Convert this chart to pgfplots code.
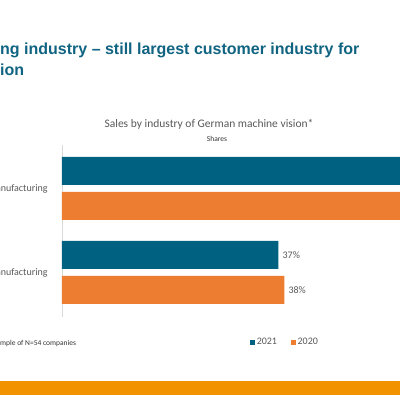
\documentclass[border=0pt]{standalone}
\usepackage{pgfplots}
\pgfplotsset{compat=1.18}
\usepackage{fontspec}
\setmainfont{Carlito}
\newfontfamily\titlefont{Liberation Sans}
\definecolor{barteal}{RGB}{0,98,128}
\definecolor{barorange}{RGB}{237,125,49}
\definecolor{band}{RGB}{243,146,0}
\definecolor{titleteal}{RGB}{16,100,130}
\definecolor{txtgray}{RGB}{89,89,89}
\begin{document}
\begin{tikzpicture}[x=1pt,y=1pt]
\useasboundingbox (0,0) rectangle (400,395);
\clip (0,0) rectangle (400,395);
\fill[white] (0,0) rectangle (400,395);
\node[anchor=base west, inner sep=0pt, font=\titlefont\bfseries\fontsize{16}{19}\selectfont, text=titleteal] at (0,340.7) {ng industry – still largest customer industry for};
\node[anchor=base west, inner sep=0pt, font=\titlefont\bfseries\fontsize{16}{19}\selectfont, text=titleteal] at (0,319) {ion};
\node[anchor=base, inner sep=0pt, font=\fontsize{11.5}{13}\selectfont, text=txtgray] at (209,267) {Sales by industry of German machine vision*};
\node[anchor=base, inner sep=0pt, font=\fontsize{7.5}{9}\selectfont, text=black!80] at (217,253.3) {Shares};
\node[anchor=base west, inner sep=0pt, font=\fontsize{7.5}{9}\selectfont, text=black!80] at (0,49.5) {mple of N=54 companies};
\fill[band] (0,0) rectangle (400,14);
\begin{axis}[
  at={(62pt,78pt)}, anchor=south west,
  x=5.85pt, y=84pt,
  xmin=0, xmax=70, ymin=-0.53, ymax=1.52,
  xbar, bar width=28pt,
  axis x line=none, axis y line*=left,
  y axis line style={draw=black!15, line width=0.6pt},
  ytick={0,1}, yticklabels={anufacturing,anufacturing},
  ytick style={draw=none},
  yticklabel style={font=\fontsize{10}{12}\selectfont, text=txtgray, inner sep=0pt, anchor=east, xshift=-10pt},
  /pgf/number format/assume math mode=true,
  nodes near coords={\pgfmathprintnumber{\pgfplotspointmeta}\%},
  nodes near coords style={anchor=west, inner sep=0pt, xshift=4pt, font=\fontsize{10}{12}\selectfont, text=txtgray},
  legend style={draw=none, fill=none, inner sep=0pt, at={(0.459,-0.148)}, anchor=west, legend columns=-1, font=\fontsize{10}{12}\selectfont, text=txtgray, /tikz/every even column/.append style={column sep=12pt}},
  legend image code/.code={\fill[#1] (0pt,-2.3pt) rectangle (4.6pt,2.3pt);},
]
\addplot[fill=barteal, draw=none, bar shift=17.5pt] coordinates {(63,1) (37,0)};
\addplot[fill=barorange, draw=none, bar shift=-17.5pt] coordinates {(62,1) (38,0)};
\legend{2021,2020}
\end{axis}
\end{tikzpicture}
\end{document}
